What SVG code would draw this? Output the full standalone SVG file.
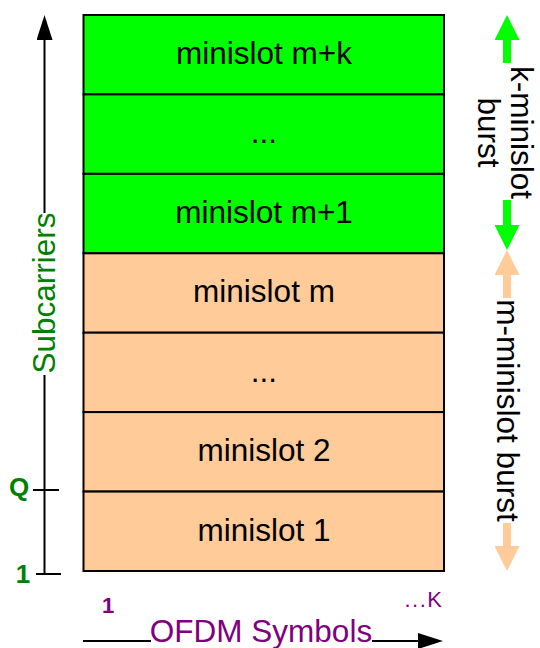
<svg xmlns="http://www.w3.org/2000/svg" width="540" height="648" viewBox="0 0 540 648">
  <style>
    .cell { stroke: #000; stroke-width: 2; }
    .k { fill: #00ff00; }
    .m { fill: #ffcc99; }
    .lbl { font-family: "Liberation Sans", Arial, sans-serif; font-size: 31.5px; fill: #000; text-anchor: middle; }
    .tick { font-family: "Liberation Sans", Arial, sans-serif; text-anchor: middle; }
    .axis { stroke: #000; stroke-width: 2; fill: none; }
    .green { fill: #008000; }
    .purple { fill: #800080; }
    .bg { fill: #fff; }
  </style>
  <defs>
    <marker id="headBlack" markerUnits="userSpaceOnUse" markerWidth="25" markerHeight="16" refX="0" refY="8" orient="auto-start-reverse" viewBox="0 0 25 16">
      <path d="M0,0 L25,8 L0,16 z" fill="#000"/>
    </marker>
    <marker id="headGreen" markerUnits="userSpaceOnUse" markerWidth="25" markerHeight="25" refX="0" refY="12.5" orient="auto-start-reverse" viewBox="0 0 25 25">
      <path d="M0,0 L25,12.5 L0,25 z" fill="#00ff00"/>
    </marker>
    <marker id="headPeach" markerUnits="userSpaceOnUse" markerWidth="25" markerHeight="25" refX="0" refY="12.5" orient="auto-start-reverse" viewBox="0 0 25 25">
      <path d="M0,0 L25,12.5 L0,25 z" fill="#ffcc99"/>
    </marker>
  </defs>

  <!-- minislot stack, top to bottom -->
  <g id="minislot-mk">
    <rect class="cell k" x="83.5" y="15" width="360.5" height="79.4"/>
    <text class="lbl" x="264" y="64">minislot m+k</text>
  </g>
  <g id="minislot-k-dots">
    <rect class="cell k" x="83.5" y="94.4" width="360.5" height="79.4"/>
    <text class="lbl" x="264" y="143.4">...</text>
  </g>
  <g id="minislot-m1">
    <rect class="cell k" x="83.5" y="173.9" width="360.5" height="79.4"/>
    <text class="lbl" x="264" y="222.8">minislot m+1</text>
  </g>
  <g id="minislot-m">
    <rect class="cell m" x="83.5" y="253.3" width="360.5" height="79.4"/>
    <text class="lbl" x="264" y="302.2">minislot m</text>
  </g>
  <g id="minislot-m-dots">
    <rect class="cell m" x="83.5" y="332.7" width="360.5" height="79.4"/>
    <text class="lbl" x="264" y="381.6">...</text>
  </g>
  <g id="minislot-2">
    <rect class="cell m" x="83.5" y="412.1" width="360.5" height="79.4"/>
    <text class="lbl" x="264" y="461">minislot 2</text>
  </g>
  <g id="minislot-1">
    <rect class="cell m" x="83.5" y="491.6" width="360.5" height="79.4"/>
    <text class="lbl" x="264" y="540.5">minislot 1</text>
  </g>

  <g id="connectors">
    <!-- subcarrier axis -->
    <line class="axis" x1="44.5" y1="574" x2="44.5" y2="40" marker-end="url(#headBlack)"/>
    <line class="axis" x1="33" y1="490" x2="59" y2="490"/>
    <line class="axis" x1="36" y1="574" x2="61" y2="574"/>
    <!-- OFDM symbol axis -->
    <line class="axis" x1="83" y1="641" x2="418" y2="641" marker-end="url(#headBlack)"/>
    <!-- burst extents -->
    <line x1="507" y1="40" x2="507" y2="225" stroke="#00ff00" stroke-width="8" marker-start="url(#headGreen)" marker-end="url(#headGreen)"/>
    <line x1="507" y1="275" x2="507" y2="546" stroke="#ffcc99" stroke-width="8" marker-start="url(#headPeach)" marker-end="url(#headPeach)"/>
  </g>

  <!-- axis labels -->
  <g id="subcarriers-label">
    <rect class="bg" x="30" y="213" width="28" height="162"/>
    <text class="lbl green" transform="translate(55,293) rotate(-90)" x="0" y="0">Subcarriers</text>
  </g>
  <g id="tick-labels">
    <text class="tick green" x="19" y="496" font-size="26" font-weight="bold">Q</text>
    <text class="tick green" x="23" y="583" font-size="26" font-weight="bold">1</text>
    <text class="tick purple" x="108" y="613" font-size="22" font-weight="bold">1</text>
    <text class="tick purple" x="424" y="607" font-size="22" letter-spacing="1.5">...K</text>
  </g>
  <g id="ofdm-label">
    <rect class="bg" x="151" y="616" width="221" height="32"/>
    <text class="lbl purple" x="261" y="642">OFDM Symbols</text>
  </g>
  <g id="k-burst-label">
    <rect class="bg" x="474" y="63" width="66" height="137"/>
    <text class="lbl" transform="translate(511,132.5) rotate(90)" x="0" y="0">k-minislot</text>
    <text class="lbl" transform="translate(478,132.5) rotate(90)" x="0" y="0">burst</text>
  </g>
  <g id="m-burst-label">
    <rect class="bg" x="492" y="298" width="32" height="225"/>
    <text class="lbl" transform="translate(497,410.5) rotate(90)" x="0" y="0">m-minislot burst</text>
  </g>
</svg>
